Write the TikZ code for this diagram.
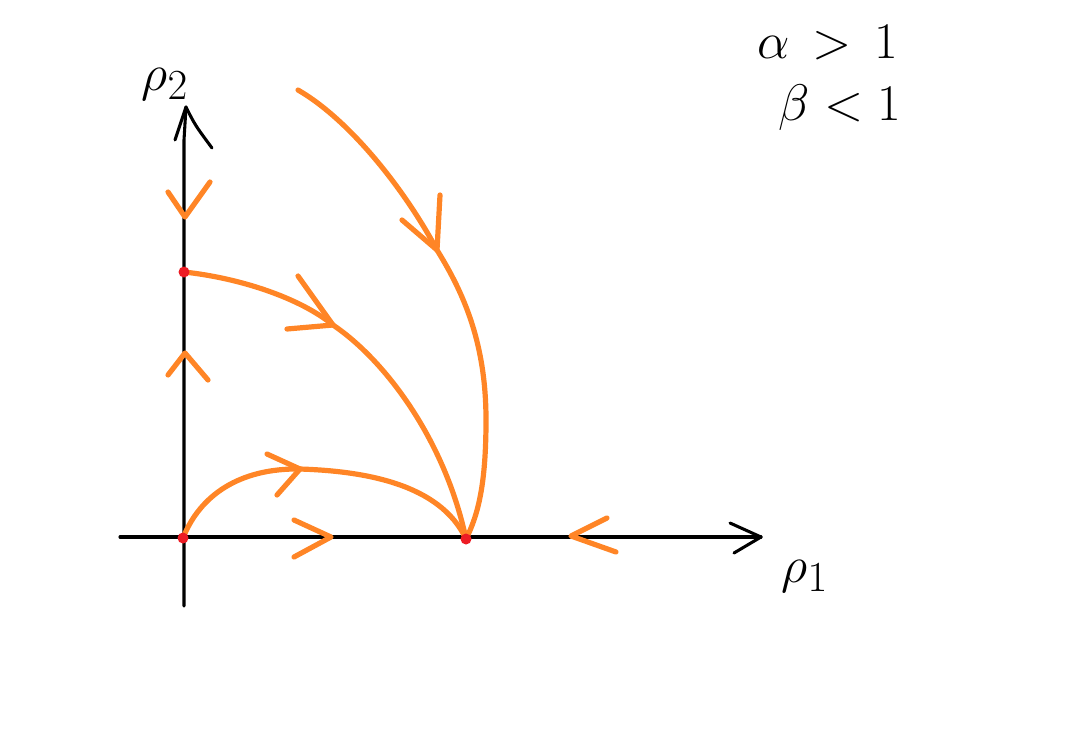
\documentclass[tikz,border=0pt]{standalone}
\definecolor{flow}{RGB}{255,133,38}
\definecolor{fix}{RGB}{237,28,36}
\newcommand{\biglbl}[1]{\scalebox{1.55}{\Huge$#1$}}
\begin{document}
\begin{tikzpicture}[x=0.75pt,y=-0.75pt,
  axis/.style={draw=black,line width=2.3pt,line cap=round,line join=round},
  traj/.style={draw=flow,line width=3.9pt,line cap=round,line join=round},
  fixpt/.style={fill=fix,draw=none},
  lbl/.style={inner sep=0pt}]
\useasboundingbox (0,0) rectangle (1088,754);
% fixed points and axis ends
\coordinate (O) at (183,538);
\coordinate (P) at (184,272);
\coordinate (Q) at (466,539);
\coordinate (xs) at (120,537);
\coordinate (xe) at (761,537);
\coordinate (ys) at (184,606);
\coordinate (ye) at (186,107);
% axes
\draw[axis] (xs) -- (xe);
\draw[axis] (730,523) -- (xe) -- (734,553);
\draw[axis] (ys) -- (184,140) -- (ye);
\draw[axis] (175,140) .. controls (180,125) .. (ye) .. controls (195,125) .. (212,148);
% labels
\node[lbl,anchor=base] (a) at (828,58) {\biglbl{\alpha\,>\,1}};
\node[lbl,anchor=base] (b) at (840,120) {\biglbl{\beta<1}};
\node[lbl,anchor=base] (r2) at (165,90) {\biglbl{\rho_2}};
\node[lbl,anchor=base] (r1) at (805,582) {\biglbl{\rho_1}};
% trajectories
\draw[traj] (P) .. controls (240,278) and (300,298) .. (333,325)
            .. controls (385,360) and (445,440) .. (Q);
\draw[traj] (298,90) .. controls (350,120) and (405,190) .. (437,250)
            .. controls (465,295) and (486,345) .. (486,420)
            .. controls (486,485) and (478,515) .. (Q);
\draw[traj] (O) .. controls (200,495) and (240,468) .. (300,469)
            .. controls (362,471) and (440,483) .. (Q);
% arrowheads on trajectories
\draw[traj] (298,276) -- (333,325) -- (287,329);
\draw[traj] (440,195) -- (437,250) -- (402,220);
\draw[traj] (267,454) -- (300,469) -- (277,495);
% arrowheads on axes
\draw[traj] (294,520) -- (331,537) -- (294,557);
\draw[traj] (607,518) -- (571,536) -- (616,552);
\draw[traj] (168,192) -- (185,217) -- (210,182);
\draw[traj] (168,375) -- (185,353) -- (208,380);
% fixed points
\fill[fixpt] (P) circle (5.5);
\fill[fixpt] (O) circle (5.5);
\fill[fixpt] (Q) circle (5.5);
\end{tikzpicture}
\end{document}
